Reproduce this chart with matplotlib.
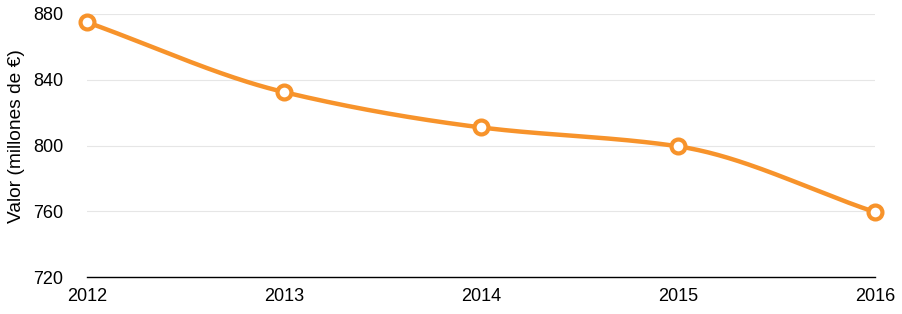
import numpy as np
import matplotlib
matplotlib.use("Agg")
import matplotlib.pyplot as plt

years = [2012, 2013, 2014, 2015, 2016]
values = [875.0, 832.5, 811.0, 799.5, 759.5]
y_ticks = [720, 760, 800, 840, 880]
y_label = "Valor (millones de €)"

color = "#F7932B"

def monotone_curve(x, y, n=60):
    x = np.asarray(x, float); y = np.asarray(y, float)
    h = np.diff(x); d = np.diff(y) / h
    m = np.zeros_like(y)
    m[0] = d[0]; m[-1] = d[-1]
    for i in range(1, len(y) - 1):
        if d[i - 1] * d[i] <= 0:
            m[i] = 0
        else:
            w1 = 2 * h[i] + h[i - 1]; w2 = h[i] + 2 * h[i - 1]
            m[i] = (w1 + w2) / (w1 / d[i - 1] + w2 / d[i])
    xs, ys = [], []
    for i in range(len(x) - 1):
        t = np.linspace(0, 1, n)
        h00 = 2*t**3 - 3*t**2 + 1; h10 = t**3 - 2*t**2 + t
        h01 = -2*t**3 + 3*t**2; h11 = t**3 - t**2
        xs.append(x[i] + t * h[i])
        ys.append(h00*y[i] + h10*h[i]*m[i] + h01*y[i+1] + h11*h[i]*m[i+1])
    return np.concatenate(xs), np.concatenate(ys)

plt.rcParams['font.family'] = ['Liberation Sans', 'DejaVu Sans']

fig = plt.figure(figsize=(9.02, 3.14), dpi=100)
ax = fig.add_axes([87/902, 37/314, (875-87)/902, (277-14)/314])

xs, ys = monotone_curve(years, values)
ax.plot(xs, ys, color=color, lw=3.2, solid_capstyle='round', zorder=3)
ax.plot(years, values, 'o', ms=10, mfc='white', mec=color, mew=3, zorder=4, clip_on=False)

ax.set_xlim(2012, 2016)
ax.set_ylim(720, 880)
ax.set_yticks(y_ticks)
ax.set_xticks(years)
ax.set_xticklabels([str(y) for y in years])
ax.yaxis.grid(True, color='#e6e6e6', lw=0.8)
ax.set_axisbelow(True)
for s in ['top', 'right', 'left']:
    ax.spines[s].set_visible(False)
ax.spines['bottom'].set_color('black')
ax.spines['bottom'].set_linewidth(1.0)
ax.tick_params(axis='both', length=0, labelsize=13, colors='black')
ax.tick_params(axis='y', pad=17)
ax.tick_params(axis='x', pad=8)
ax.set_ylabel(y_label, fontsize=13.8)
ax.yaxis.set_label_coords(-62/788, 0.535)

fig.savefig("out.png", dpi=100)
